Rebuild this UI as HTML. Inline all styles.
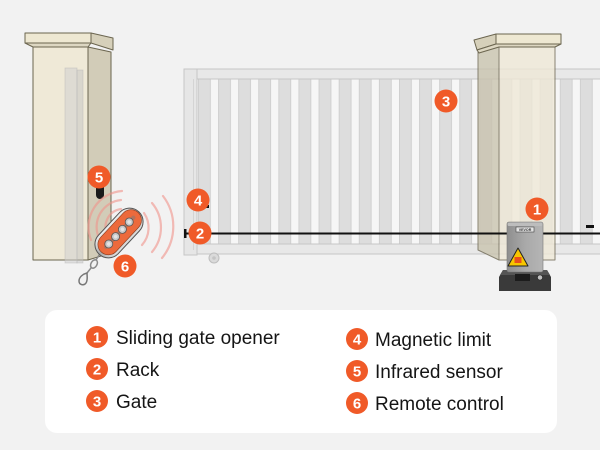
<!DOCTYPE html>
<html><head><meta charset="utf-8"><style>
html,body{margin:0;padding:0;background:#f2f2f2;}
body{width:600px;height:450px;overflow:hidden;font-family:"Liberation Sans",Arial,sans-serif;}
svg{display:block;}
.b text{font-family:"Liberation Sans",Arial,sans-serif;}
</style></head><body>
<svg width="600" height="450" viewBox="0 0 600 450" xmlns="http://www.w3.org/2000/svg">
<defs>
<pattern id="sl" x="198" y="0" width="20.1" height="450" patternUnits="userSpaceOnUse">
<rect x="0.4" y="0" width="12" height="450" fill="#dddddd" stroke="#cccccc" stroke-width="0.8"/>
</pattern>
<linearGradient id="chrome" x1="0" y1="0" x2="0" y2="1">
<stop offset="0" stop-color="#f2f2f2"/><stop offset="0.5" stop-color="#a9a9a9"/><stop offset="1" stop-color="#e0e0e0"/>
</linearGradient>
<linearGradient id="mot" x1="0" y1="0" x2="1" y2="0">
<stop offset="0" stop-color="#8e8e8e"/><stop offset="0.5" stop-color="#a9a9a9"/><stop offset="1" stop-color="#b5b5b5"/>
</linearGradient>
</defs>
<rect width="600" height="450" fill="#f2f2f2"/>

<!-- LEFT PILLAR -->
<g stroke="#6b654f" stroke-width="1" stroke-linejoin="round">
<polygon points="88,47 111,52 111,253 88,260" fill="#d2ccb8"/>
<rect x="33" y="47" width="55" height="213" fill="#efe9d7"/>
<polygon points="91,33 113,38 113,50 91,43" fill="#d6d0ba"/>
<polygon points="25,43 91,43 88,47 33,47" fill="#ddd7c2"/>
<rect x="25" y="33" width="66" height="10" fill="#eee8d2"/>
</g>
<!-- ghost gate edge -->
<rect x="65" y="68" width="12" height="195" fill="#cfcfcf" fill-opacity="0.55" stroke="#b5b5b5" stroke-opacity="0.5" stroke-width="0.8"/>
<rect x="77" y="70" width="6" height="193" fill="#c3c3c3" fill-opacity="0.5" stroke="#b5b5b5" stroke-opacity="0.5" stroke-width="0.8"/>

<!-- sensor 5 -->
<path d="M96,187 h8 v8 a4,4 0 0 1 -8,0 z" fill="#1a1a1a"/>

<!-- GATE -->
<rect x="197" y="79" width="403" height="165" fill="#f6f6f6"/>
<rect x="197" y="79" width="403" height="165" fill="url(#sl)"/>
<rect x="184" y="69" width="420" height="10" fill="#e8e8e8" stroke="#c6c6c6" stroke-width="1"/>
<rect x="197" y="244" width="407" height="10" fill="#e8e8e8" stroke="#c6c6c6" stroke-width="1"/>
<rect x="184" y="69" width="13" height="186" fill="#e6e6e6" stroke="#c6c6c6" stroke-width="1"/>
<line x1="193.5" y1="79" x2="193.5" y2="250" stroke="#d0d0d0" stroke-width="0.8"/>
<circle cx="214" cy="258" r="5" fill="#dadada" stroke="#bdbdbd" stroke-width="1"/>
<circle cx="214" cy="258" r="1.8" fill="#c4c4c4"/>

<!-- RIGHT PILLAR (translucent) -->
<g stroke="#6b654f" stroke-width="1" stroke-linejoin="round" opacity="0.78">
<polygon points="478,52 499,46 499,260 478,250" fill="#c9c3ae"/>
<rect x="499" y="46" width="56" height="214" fill="#efe9d7"/>
</g>
<g stroke="#6b654f" stroke-width="1" stroke-linejoin="round">
<polygon points="474,40 496,34 496,44 477,50" fill="#d6d0ba"/>
<polygon points="477,50 496,44 561,44 555,47 499,47 479,53" fill="#ddd7c2"/>
<rect x="496" y="34" width="65" height="10" fill="#eee8d2"/>
</g>

<!-- rack -->
<line x1="185" y1="233.5" x2="600" y2="233.5" stroke="#111" stroke-width="2"/>
<rect x="184" y="229" width="2.5" height="9" fill="#111"/>
<rect x="586" y="225" width="8" height="3" fill="#111"/>
<rect x="205" y="205" width="4" height="3" fill="#111"/>

<!-- MOTOR -->
<polygon points="503,270 547,270 551,277 551,291 499,291 499,277" fill="#3a3a3a"/>
<polygon points="503,270 547,270 550,275 500,275" fill="#555"/>
<rect x="507" y="222" width="36" height="50" rx="2" fill="url(#mot)" stroke="#777" stroke-width="0.6"/>
<rect x="507.5" y="222.5" width="35" height="3.5" rx="1.5" fill="#bdbdbd"/>
<rect x="516" y="227" width="18" height="5" fill="#e4e4e4" stroke="#444" stroke-width="0.6"/>
<text x="525" y="231" font-size="3.6" text-anchor="middle" fill="#333" font-family="Liberation Sans, sans-serif" font-weight="bold">VEVOR</text>
<polygon points="518,248 528,266 508,266" fill="#f7c600" stroke="#222" stroke-width="1" stroke-linejoin="round"/>
<rect x="514.5" y="257" width="7" height="6" fill="#e8501c"/>
<rect x="515" y="274" width="15" height="7" fill="#1c1c1c"/>
<circle cx="540" cy="277.5" r="2.6" fill="#c0c0c0" stroke="#222" stroke-width="0.6"/>

<!-- signal arcs -->
<g fill="none" stroke="#f0928a" stroke-width="2.2" stroke-linecap="round" stroke-opacity="0.6">
<path d="M107,234 A18,18 0 0 1 121,209"/>
<path d="M99,238 A27,27 0 0 1 121,200"/>
<path d="M91,240 A36,36 0 0 1 122,191"/>
<path d="M144,213 A26,26 0 0 1 142,245"/>
<path d="M152,203 A38,38 0 0 1 152,252"/>
<path d="M163,196 A50,50 0 0 1 162,258"/>
</g>

<!-- keyring -->
<g fill="none" stroke="#8a8a8a" stroke-width="1.5">
<line x1="101" y1="252" x2="96" y2="260"/>
<ellipse cx="94" cy="264" rx="3" ry="4.5" transform="rotate(30 94 264)"/>
<line x1="91" y1="268" x2="87" y2="273"/>
<path d="M87,273 c-4,1 -8,4 -8,8 c0,4 5,5 7,2 c2,-3 1,-7 1,-10z" stroke="#777"/>
</g>

<!-- REMOTE -->
<g transform="translate(119,233) rotate(-47)">
<rect x="-29" y="-13.5" width="58" height="27" rx="13.5" fill="url(#chrome)" stroke="#555" stroke-width="1"/>
<rect x="-26" y="-10.5" width="54" height="21" rx="10.5" fill="#ec6a3c" stroke="#8a3a1c" stroke-width="0.6"/>
<rect x="-21" y="-2" width="44" height="4" rx="2" fill="#7a7a7a" opacity="0.5"/>
<g fill="#c8c8c8" stroke="#555" stroke-width="0.8">
<circle cx="15" cy="0" r="4"/><circle cx="5" cy="0" r="4"/><circle cx="-5" cy="0" r="4"/><circle cx="-15" cy="0" r="4"/>
</g>
<g fill="#e4e4e4">
<circle cx="15" cy="0" r="1.8"/><circle cx="5" cy="0" r="1.8"/><circle cx="-5" cy="0" r="1.8"/><circle cx="-15" cy="0" r="1.8"/>
</g>
</g>

<!-- BADGES -->
<g class="b" font-size="15" font-weight="bold" fill="#fff" text-anchor="middle">
<circle cx="537" cy="209" r="11.5" fill="#f05a28"/><text x="537" y="214.5">1</text>
<circle cx="200" cy="233" r="11.5" fill="#f05a28"/><text x="200" y="238.5">2</text>
<circle cx="446" cy="101" r="11.5" fill="#f05a28"/><text x="446" y="106.5">3</text>
<circle cx="198" cy="200" r="11.5" fill="#f05a28"/><text x="198" y="205.5">4</text>
<circle cx="99" cy="177" r="11.5" fill="#f05a28"/><text x="99" y="182.5">5</text>
<circle cx="125" cy="266" r="11.5" fill="#f05a28"/><text x="125" y="271.5">6</text>
</g>

<!-- LEGEND -->
<rect x="45" y="310" width="512" height="123" rx="12" fill="#ffffff"/>
<g class="b" font-size="15" font-weight="bold" fill="#fff" text-anchor="middle">
<circle cx="97" cy="337" r="11" fill="#f05a28"/><text x="97" y="342.5">1</text>
<circle cx="97" cy="369" r="11" fill="#f05a28"/><text x="97" y="374.5">2</text>
<circle cx="97" cy="401" r="11" fill="#f05a28"/><text x="97" y="406.5">3</text>
<circle cx="357" cy="339" r="11" fill="#f05a28"/><text x="357" y="344.5">4</text>
<circle cx="357" cy="371" r="11" fill="#f05a28"/><text x="357" y="376.5">5</text>
<circle cx="357" cy="403" r="11" fill="#f05a28"/><text x="357" y="408.5">6</text>
</g>
<g font-family="Liberation Sans, Arial, sans-serif" font-size="19" fill="#151515">
<text x="116" y="344">Sliding gate opener</text>
<text x="116" y="376">Rack</text>
<text x="116" y="408">Gate</text>
<text x="375" y="346">Magnetic limit</text>
<text x="375" y="378">Infrared sensor</text>
<text x="375" y="410">Remote control</text>
</g>
</svg>
</body></html>
